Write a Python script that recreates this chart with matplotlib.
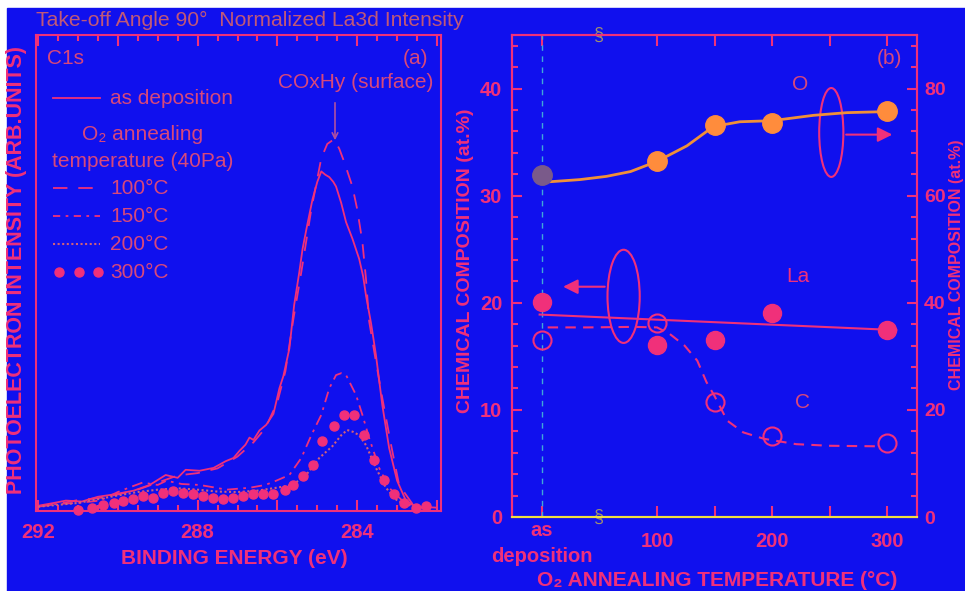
import numpy as np
import matplotlib.pyplot as plt
from matplotlib.patches import Ellipse, Rectangle
from matplotlib.lines import Line2D
from matplotlib.ticker import MultipleLocator

plt.rcParams['font.family'] = ['Liberation Sans', 'DejaVu Sans']

# ---- (a) C1s spectra, binding energy (eV) vs intensity (arb. units)
be_asdep = [292.0, 291.6, 291.3, 290.9, 290.5, 290.1, 289.6, 289.2, 288.8, 288.5,
            288.3, 287.95, 287.6, 287.3, 287.1, 286.95, 286.8, 286.7, 286.6, 286.45,
            286.28, 286.1, 285.95, 285.85, 285.7, 285.58, 285.45, 285.37, 285.25, 285.12,
            285.0, 284.9, 284.8, 284.7, 284.6, 284.53, 284.4, 284.28, 284.12, 283.95,
            283.85, 283.78, 283.65, 283.53, 283.37, 283.2, 283.0, 282.78, 282.6, 282.45,
            282.2, 282.0]
i_asdep = [0.006, 0.012, 0.017, 0.015, 0.025, 0.03, 0.038, 0.05, 0.071, 0.065,
           0.082, 0.08, 0.086, 0.1, 0.107, 0.122, 0.135, 0.15, 0.145, 0.165,
           0.177, 0.2, 0.254, 0.28, 0.338, 0.43, 0.5, 0.548, 0.6, 0.653,
           0.69, 0.712, 0.705, 0.70, 0.69, 0.68, 0.645, 0.605, 0.57, 0.527,
           0.49, 0.45, 0.39, 0.324, 0.218, 0.128, 0.059, 0.017, 0.008, 0.002,
           0.003, 0.002]

be_100 = [292.0, 291.5, 291.0, 290.5, 290.0, 289.5, 289.0, 288.5, 288.0, 287.5,
          287.0, 286.6, 286.3, 286.0, 285.8, 285.6, 285.4, 285.15, 284.9, 284.75,
          284.58, 284.45, 284.33, 284.12, 284.0, 283.87, 283.78, 283.7, 283.53, 283.37,
          283.15, 282.95, 282.6, 282.2]
i_100 = [0.004, 0.01, 0.018, 0.022, 0.03, 0.04, 0.055, 0.07, 0.075, 0.085,
         0.11, 0.14, 0.17, 0.225, 0.29, 0.4, 0.5, 0.632, 0.74, 0.77,
         0.78, 0.76, 0.733, 0.68, 0.632, 0.563, 0.485, 0.395, 0.31, 0.233,
         0.134, 0.05, 0.008, 0.003]

be_150 = [292.0, 291.5, 291.0, 290.45, 290.0, 289.7, 289.38, 289.0, 288.78, 288.4,
          287.95, 287.6, 287.28, 287.0, 286.7, 286.3, 286.03, 285.7, 285.4, 285.15,
          284.9, 284.7, 284.53, 284.4, 284.28, 284.03, 283.87, 283.7, 283.45, 283.2,
          282.87, 282.5]
i_150 = [0.005, 0.01, 0.012, 0.017, 0.035, 0.045, 0.055, 0.05, 0.059, 0.052,
         0.05, 0.045, 0.04, 0.042, 0.044, 0.05, 0.059, 0.071, 0.107, 0.155,
         0.198, 0.254, 0.282, 0.286, 0.282, 0.24, 0.198, 0.149, 0.086, 0.044,
         0.017, 0.002]

be_200 = [292.0, 291.5, 291.0, 290.5, 290.0, 289.5, 289.0, 288.5, 288.0, 287.5,
          287.0, 286.5, 286.03, 285.62, 285.28, 284.95, 284.62, 284.4, 284.25, 284.1,
          283.95, 283.78, 283.53, 283.28, 283.0, 282.6, 282.2]
i_200 = [0.004, 0.008, 0.012, 0.02, 0.028, 0.035, 0.04, 0.043, 0.04, 0.036,
         0.035, 0.038, 0.044, 0.05, 0.071, 0.107, 0.132, 0.155, 0.166, 0.162,
         0.155, 0.134, 0.086, 0.044, 0.017, 0.004, 0.002]

be_300 = [291.0, 290.65, 290.37, 290.1, 289.87, 289.62, 289.37, 289.12, 288.87, 288.62,
          288.37, 288.12, 287.87, 287.62, 287.37, 287.12, 286.87, 286.62, 286.37, 286.12,
          285.82, 285.62, 285.37, 285.12, 284.87, 284.58, 284.33, 284.08, 283.83, 283.57,
          283.32, 283.07, 282.82, 282.52, 282.27]
i_300 = [-0.002, 0.002, 0.008, 0.012, 0.017, 0.02, 0.027, 0.023, 0.034, 0.038,
         0.034, 0.03, 0.027, 0.023, 0.02, 0.023, 0.027, 0.03, 0.03, 0.03,
         0.04, 0.05, 0.069, 0.092, 0.143, 0.174, 0.198, 0.198, 0.155, 0.103,
         0.061, 0.03, 0.012, 0.002, 0.006]

# ---- (b) chemical composition vs O2 annealing temperature (0 = as deposition)
temp = [0, 100, 150, 200, 300]
o_pct = [63.8, 66.4, 73.2, 73.6, 75.8]      # right axis
la_pct = [20.1, 16.1, 16.5, 19.0, 17.5]     # left axis
c_pct = [16.5, 18.1, 10.7, 7.6, 6.9]        # left axis

o_fit_x = [7, 33, 56, 77, 100, 126, 149, 172, 200, 236, 265, 300]
o_fit_y = [62.6, 63.0, 63.6, 64.5, 66.4, 69.3, 72.9, 73.8, 74.0, 75.0, 75.5, 75.7]
la_fit_x = [-2, 308]
la_fit_y = [18.9, 17.45]
c_fit_x = [5, 40, 80, 100, 111, 124, 135, 143, 150, 161, 175, 193, 221, 250, 292]
c_fit_y = [17.7, 17.7, 17.75, 17.7, 17.1, 16.0, 14.6, 12.6, 11.3, 9.0, 7.9, 7.3, 6.8, 6.65, 6.6]

BG = '#1010ee'
PINK = '#f0307a'
TXT = '#d8487a'
ORANGE = '#ff8c3c'

W, H = 965, 591


def fp(x, y):
    # pixel position -> figure fraction
    return x / W, 1 - y / H


fig = plt.figure(figsize=(W / 100, H / 100), dpi=100, facecolor='white')
fig.patches.append(Rectangle((7 / W, 0), 1, 1 - 8 / H, transform=fig.transFigure,
                             color=BG, zorder=-10))

# ================= panel (a)
ax = fig.add_axes([36 / W, 80 / H, 405 / W, 476 / H])
ax.set_facecolor(BG)
ax.plot(be_asdep, i_asdep, color=PINK, lw=1.3)
ax.plot(be_100, i_100, color=PINK, lw=1.3, dashes=(8, 6))
ax.plot(be_150, i_150, color=PINK, lw=1.3, dashes=(6, 3, 1.5, 3))
ax.plot(be_200, i_200, color='#d0607a', lw=1.5, dashes=(1, 1.2))
ax.plot(be_300, i_300, 'o', color=PINK, ms=6.5, clip_on=False)
ax.set_xlim(292.05, 281.9)
ax.set_ylim(-0.005, 1.0)
ax.set_yticks([])
ax.set_xticks([292, 290, 288, 286, 284, 282])
ax.set_xticklabels(['292', '', '288', '', '284', ''], fontweight='bold', fontsize=14.5)
ax.xaxis.set_minor_locator(MultipleLocator(0.5))
ax.tick_params(axis='x', which='both', direction='in', top=True, color=PINK,
               labelcolor=PINK, width=1.5, pad=9)
ax.tick_params(axis='x', which='major', length=8)
ax.tick_params(axis='x', which='minor', length=4)
for s in ax.spines.values():
    s.set_color(PINK)
    s.set_linewidth(1.5)

fig.text(*fp(36, 20), 'Take-off Angle 90°  Normalized La3d Intensity', color='#c05878',
         fontsize=15.2, ha='left', va='center')
fig.text(*fp(47, 58), 'C1s', color=TXT, fontsize=15, ha='left', va='center')
fig.text(*fp(428, 58), '(a)', color=TXT, fontsize=15, ha='right', va='center')
fig.text(*fp(433, 83), 'COxHy (surface)', color=TXT, fontsize=15, ha='right', va='center')
ax.annotate('', xy=fp(335, 143), xytext=fp(335, 100), xycoords='figure fraction',
            textcoords='figure fraction',
            arrowprops=dict(arrowstyle='->', color='#b050a0', lw=1.2))

# hand-made legend
legend_rows = [(98, 'as deposition', dict(color=PINK, lw=1.3)),
               (188, '100°C', dict(color=PINK, lw=1.3, dashes=(8, 6))),
               (216, '150°C', dict(color=PINK, lw=1.3, dashes=(4, 3, 1.5, 3))),
               (244, '200°C', dict(color='#d0607a', lw=1.5, dashes=(1, 1.2)))]
for yy, lab, kw in legend_rows:
    x0, y0 = fp(53, yy)
    x1, _ = fp(100, yy)
    fig.add_artist(Line2D([x0, x1], [y0, y0], transform=fig.transFigure, **kw))
    fig.text(*fp(110, yy), lab, color=TXT, fontsize=15, ha='left', va='center')
for xx in (59, 79, 98):
    fig.add_artist(Line2D([xx / W], [1 - 272 / H], transform=fig.transFigure,
                          marker='o', ms=6.5, color=PINK, lw=0))
fig.text(*fp(110, 272), '300°C', color=TXT, fontsize=15, ha='left', va='center')
fig.text(*fp(82, 135), 'O₂ annealing', color=TXT, fontsize=15, ha='left', va='center')
fig.text(*fp(52, 162), 'temperature (40Pa)', color=TXT, fontsize=15, ha='left', va='center')

fig.text(*fp(234, 558), 'BINDING ENERGY (eV)', color=PINK, fontsize=15,
         fontweight='bold', ha='center', va='center')
fig.text(*fp(17, 270), 'PHOTOELECTRON INTENSITY (ARB.UNITS)', color=PINK, fontsize=15.5,
         fontweight='bold', ha='center', va='center', rotation=90)

# ================= panel (b)
bx = fig.add_axes([512 / W, 74 / H, 405 / W, 482 / H])
bx.set_facecolor('none')
rx = bx.twinx()

bx.axvline(0, color='#40a8d8', lw=1, dashes=(4, 4))
bx.plot(la_fit_x, la_fit_y, color=PINK, lw=1.5)
bx.plot(c_fit_x, c_fit_y, color=PINK, lw=1.5, dashes=(5, 3.5))
bx.plot(temp, la_pct, 'o', color=PINK, ms=13, zorder=5)
bx.plot(temp, c_pct, 'o', mfc='none', mec=PINK, mew=1.5, ms=13, zorder=5)
rx.plot(o_fit_x, o_fit_y, color='#f09038', lw=2)
rx.plot(temp[1:], o_pct[1:], 'o', color=ORANGE, ms=14, zorder=5)
rx.plot(temp[:1], o_pct[:1], 'o', color='#7a5a8a', ms=14, zorder=5)

bx.add_patch(Ellipse((71, 20.6), 28, 8.7, fill=False, ec=PINK, lw=1.5))
bx.add_patch(Ellipse((251.5, 35.9), 21, 8.3, fill=False, ec=PINK, lw=1.5))
bx.annotate('', xy=(16, 21.5), xytext=(57, 21.5),
            arrowprops=dict(arrowstyle='-|>', color=PINK, lw=1.5, mutation_scale=22))
bx.annotate('', xy=(307, 35.7), xytext=(262, 35.7),
            arrowprops=dict(arrowstyle='-|>', color=PINK, lw=1.5, mutation_scale=22))

bx.set_xlim(-26, 326)
bx.set_ylim(0, 45)
rx.set_ylim(0, 90)
bx.set_xticks([0, 100, 150, 200, 250, 300])
bx.set_xticklabels(['', '100', '', '200', '', '300'], fontweight='bold', fontsize=14.5)
bx.set_yticks([0, 10, 20, 30, 40])
bx.set_yticklabels(['0', '10', '20', '30', '40'], fontweight='bold', fontsize=14.5)
bx.yaxis.set_minor_locator(MultipleLocator(2))
rx.set_yticks([0, 20, 40, 60, 80])
rx.set_yticklabels(['0', '20', '40', '60', '80'], fontweight='bold', fontsize=14)
rx.yaxis.set_minor_locator(MultipleLocator(4))
bx.tick_params(axis='x', which='major', direction='in', top=True, length=8, width=1.5,
               color=PINK, labelcolor=PINK, pad=11)
bx.tick_params(axis='y', which='both', direction='in', right=False, width=1.5,
               color=PINK, labelcolor=PINK, pad=7)
rx.tick_params(axis='y', which='both', direction='in', width=1.5,
               color=PINK, labelcolor=PINK, pad=5)
for a in (bx, rx):
    a.tick_params(axis='y', which='major', length=7)
    a.tick_params(axis='y', which='minor', length=4)
    for s in a.spines.values():
        s.set_color(PINK)
        s.set_linewidth(1.5)
bx.spines['bottom'].set_color('#f0e040')
rx.spines['bottom'].set_color('#f0e040')

# axis break marks at 50
for yy in (0, 1):
    bx.text(50, yy, '§', transform=bx.get_xaxis_transform(), color='#a09070',
            fontsize=13, ha='center', va='center', clip_on=False)

fig.text(*fp(542, 536), 'as', color=PINK, fontsize=14.5, fontweight='bold',
         ha='center', va='baseline')
fig.text(*fp(542, 562), 'deposition', color=PINK, fontsize=14.5, fontweight='bold',
         ha='center', va='baseline')
fig.text(*fp(889, 58), '(b)', color=TXT, fontsize=15, ha='center', va='center')
fig.text(*fp(800, 85), 'O', color=TXT, fontsize=15, ha='center', va='center')
fig.text(*fp(798, 276), 'La', color=PINK, fontsize=15, ha='center', va='center')
fig.text(*fp(802, 402), 'C', color=TXT, fontsize=15, ha='center', va='center')

fig.text(*fp(717, 580), 'O₂ ANNEALING TEMPERATURE (°C)', color=PINK, fontsize=15,
         fontweight='bold', ha='center', va='center')
fig.text(*fp(465, 261), 'CHEMICAL COMPOSITION (at.%)', color=PINK, fontsize=14,
         fontweight='bold', ha='center', va='center', rotation=90)
fig.text(*fp(956, 265), 'CHEMICAL COMPOSITION (at.%)', color=PINK, fontsize=11.5,
         fontweight='bold', ha='center', va='center', rotation=90)

fig.savefig('out.png', dpi=100, facecolor='white')
